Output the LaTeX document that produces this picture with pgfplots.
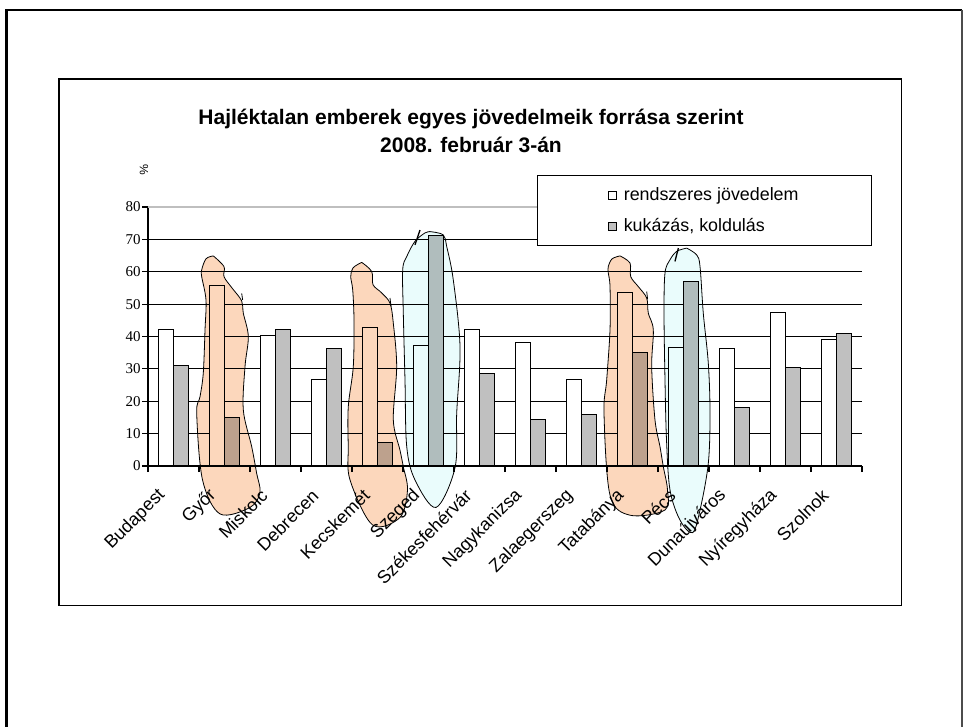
\documentclass[border=0pt]{standalone}
\usepackage{pgfplots}
\pgfplotsset{compat=1.18}
\usepackage{fontspec}
\setmainfont{Liberation Serif}
\setsansfont{Liberation Sans}
\definecolor{barg}{RGB}{192,192,192}
\definecolor{blobor}{RGB}{252,215,188}
\definecolor{blobbl}{RGB}{234,252,252}

\pgfplotstableread{
x y
0.780 64.9
0.990 61.6
0.990 58.5
1.147 55.0
1.337 51.0
1.369 47.2
1.467 40.0
1.402 30.7
1.369 17.3
1.533 6.0
1.631 -2.3
1.696 -8.2
1.500 -12.8
0.912 -14.8
0.569 -4.3
0.455 16.3
0.520 21.4
0.584 28.7
0.618 42.1
0.637 51.3
0.553 58.5
0.553 60.6
0.637 64.0
0.780 64.9
}\blobGyor

\pgfplotstableread{
x y
3.690 62.9
3.886 60.1
3.912 56.0
4.080 53.5
4.245 50.3
4.310 44.1
4.376 30.7
4.310 14.2
4.441 4.9
4.506 -0.2
4.588 -7.4
4.441 -15.9
3.902 -18.2
3.461 -4.3
3.427 6.0
3.427 18.3
3.525 30.7
3.539 45.1
3.514 54.4
3.475 58.5
3.520 61.2
3.690 62.9
}\blobKecs

\pgfplotstableread{
x y
8.755 64.9
8.951 62.7
8.965 58.5
9.120 55.3
9.278 51.9
9.310 47.2
9.408 42.1
9.376 30.7
9.441 14.2
9.539 6.0
9.604 -0.2
9.686 -7.4
9.637 -13.6
8.951 -15.2
8.559 -9.0
8.441 16.3
8.494 26.6
8.559 42.1
8.559 55.4
8.525 59.6
8.525 61.6
8.600 64.0
8.755 64.9
}\blobTata

\pgfplotstableread{
x y
5.029 72.4
5.290 71.4
5.357 67.8
5.486 57.5
5.618 36.9
5.553 16.3
5.520 -0.5
5.147 -12.8
4.735 -4.3
4.573 6.0
4.539 26.6
4.506 47.2
4.494 60.6
4.573 64.7
4.735 69.4
4.931 72.0
5.029 72.4
}\blobSzeged

\pgfplotstableread{
x y
10.063 67.3
10.259 65.2
10.324 61.6
10.388 47.2
10.486 31.8
10.520 16.3
10.486 0.8
10.324 -13.6
10.176 -20.6
9.931 -16.7
9.735 -7.4
9.667 8.0
9.637 26.6
9.618 47.2
9.637 59.6
9.735 63.7
9.867 66.3
10.063 67.3
}\blobPecs

\begin{document}
\begin{tikzpicture}[x=0.75pt,y=0.75pt]
\useasboundingbox (0,0) rectangle (963,726);
\draw[line width=2.2pt] (6.5,-3) -- (6.5,716) -- (962,716);
\draw[black!70, line width=1.2pt] (962,716) -- (962,-3);
\draw[line width=1.1pt] (59,647) rectangle (901.5,120.5);
\node[font=\sffamily\bfseries\fontsize{15.75}{19}\selectfont, anchor=base] at (471,601) {Hajléktalan emberek egyes jövedelmeik forrása szerint};
\node[font=\sffamily\bfseries\fontsize{15.75}{19}\selectfont, anchor=base] at (471,573) {2008. február 3-án};
\node[font=\sffamily\fontsize{9}{10}\selectfont, rotate=-90] at (144,556) {\%};
\begin{axis}[
  at={(111pt,195pt)}, anchor=south west,
  scale only axis, width=535.5pt, height=194.25pt,
  xmin=-0.5, xmax=13.5, ymin=0, ymax=80,
  clip=false,
  axis x line*=bottom, axis y line*=left,
  axis line style={black, line width=0.8pt},
  ytick={0,10,...,70},
  extra y ticks={80},
  extra y tick style={grid style={black!25, line width=0.8pt}},
  ymajorgrids,
  grid style={black, line width=0.8pt},
  tick align=outside,
  major tick length=4.5pt,
  tick style={black, line width=0.8pt},
  xtick={-0.5,0.5,...,13.5},
  xticklabel=\empty,
  extra x ticks={0,...,13},
  extra x tick labels={Budapest,Győr,Miskolc,Debrecen,Kecskemét,Szeged,Székesfehérvár,Nagykanizsa,Zalaegerszeg,Tatabánya,Pécs,Dunaújváros,Nyíregyháza,Szolnok},
  extra x tick style={major tick length=0pt, tick style={draw=none},
    xticklabel style={font=\sffamily\fontsize{13.5}{16}\selectfont, xshift=-6pt, yshift=-17.5pt, rotate=45, anchor=east}},
  yticklabel style={font=\fontsize{11.25}{13}\selectfont, xshift=2.5pt},
  /pgf/number format/assume math mode=true,
  legend style={at={(0.545,1.124)}, anchor=north west, draw=black, line width=0.8pt,
    font=\sffamily\fontsize{13.4}{16}\selectfont, inner xsep=53pt, inner ysep=7pt, row sep=8pt,
    /tikz/every odd column/.append style={column sep=3pt}},
  legend cell align=left,
]
\addplot[ybar, bar width=0.29, bar shift=-0.145, fill=white, draw=black, line width=0.75pt,
  legend image code/.code={\draw[fill=white,draw=black,line width=0.6pt] (0pt,-3pt) rectangle (6pt,3pt);}]
  coordinates {(0,42.1) (1,55.7) (2,40.4) (3,26.8) (4,42.7) (5,37.3) (6,42.1) (7,38.2) (8,26.8) (9,53.5) (10,36.5) (11,36.4) (12,47.4) (13,39.1)};
\addplot[ybar, bar width=0.29, bar shift=0.145, fill=barg, draw=black, line width=0.75pt,
  legend image code/.code={\draw[fill=barg,draw=black,line width=0.6pt] (0pt,-3pt) rectangle (6pt,3pt);}]
  coordinates {(0,31.1) (1,14.9) (2,42.1) (3,36.4) (4,7.4) (5,71.2) (6,28.6) (7,14.5) (8,15.8) (9,35.2) (10,57.1) (11,18.0) (12,30.4) (13,40.8)};
\legend{rendszeres jövedelem,{kukázás, koldulás}}
\draw[black, line width=0.8pt] (axis cs:-0.5,0) -- (axis cs:13.5,0);
\addplot[forget plot, smooth, tension=0.55, draw=black, line width=0.6pt, fill=blobor, blend mode=multiply] table {\blobGyor};
\addplot[forget plot, smooth, tension=0.55, draw=black, line width=0.6pt, fill=blobor, blend mode=multiply] table {\blobKecs};
\addplot[forget plot, smooth, tension=0.55, draw=black, line width=0.6pt, fill=blobor, blend mode=multiply] table {\blobTata};
\addplot[forget plot, smooth, tension=0.55, draw=black, line width=0.6pt, fill=blobbl, blend mode=multiply] table {\blobSzeged};
\addplot[forget plot, smooth, tension=0.55, draw=black, line width=0.6pt, fill=blobbl, blend mode=multiply] table {\blobPecs};
\addplot[forget plot, black, line width=1pt] coordinates {(4.735,68.3) (4.833,72.9)};
\addplot[forget plot, black, line width=1pt] coordinates {(9.833,63.2) (9.899,67.3)};
\addplot[forget plot, black, line width=0.6pt] coordinates {(1.337,53.3) (1.356,51.3)};
\addplot[forget plot, black, line width=0.6pt] coordinates {(4.245,51.9) (4.265,49.3)};
\addplot[forget plot, black, line width=0.6pt] coordinates {(9.278,53.9) (9.297,51.5)};
\end{axis}
\end{tikzpicture}
\end{document}
